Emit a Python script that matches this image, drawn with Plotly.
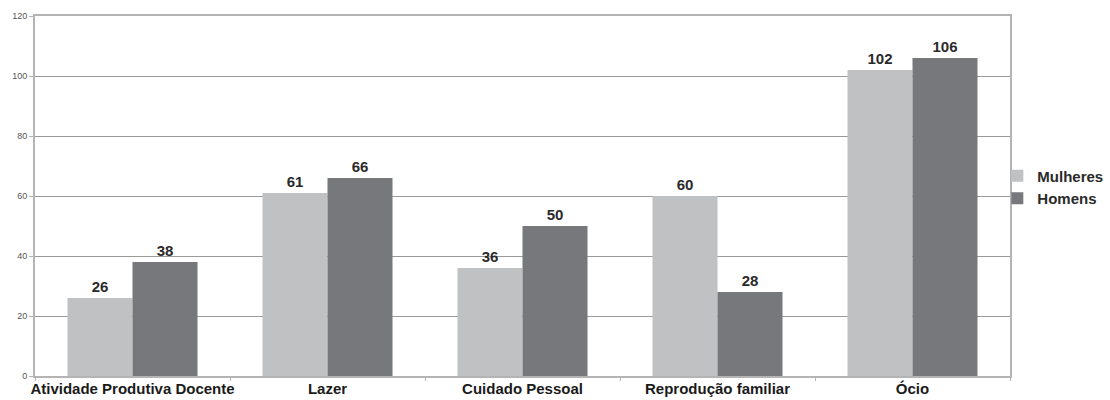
import plotly.graph_objects as go

categorias = ["Atividade Produtiva Docente", "Lazer", "Cuidado Pessoal", "Reprodução familiar", "Ócio"]
mulheres = [26, 61, 36, 60, 102]
homens = [38, 66, 50, 28, 106]
y_ticks = [0, 20, 40, 60, 80, 100, 120]

label_font = dict(family="Liberation Sans, Arial, sans-serif", size=15, color="#2a2a2a")

fig = go.Figure()
fig.add_trace(go.Bar(
    name="<b>Mulheres</b>", x=categorias, y=mulheres,
    marker=dict(color="#c0c1c3", line=dict(width=0)),
    text=[f"<b>{v}</b>" for v in mulheres], textposition="outside",
    textfont=label_font, cliponaxis=False,
))
fig.add_trace(go.Bar(
    name="<b>Homens</b>", x=categorias, y=homens,
    marker=dict(color="#77787c", line=dict(width=0)),
    text=[f"<b>{v}</b>" for v in homens], textposition="outside",
    textfont=label_font, cliponaxis=False,
))

fig.update_layout(
    width=1110, height=400,
    margin=dict(l=35, r=100, t=16, b=24, autoexpand=False),
    paper_bgcolor="white", plot_bgcolor="white",
    barmode="group", bargap=1/3, bargroupgap=0,
    font=dict(family="Liberation Sans, Arial, sans-serif"),
    showlegend=True,
    legend=dict(
        x=0.987, y=0.525, xanchor="left", yanchor="middle",
        font=dict(size=15, color="#2a2a2a"),
        itemwidth=30, tracegroupgap=0,
        bgcolor="rgba(0,0,0,0)",
    ),
)

fig.update_yaxes(
    range=[0, 120], tickvals=y_ticks, ticktext=[str(v) for v in y_ticks],
    showgrid=True, gridcolor="#9a9a9a", gridwidth=1,
    showline=True, linecolor="#b4b4b4", linewidth=2, mirror=True,
    ticks="outside", ticklen=4, tickcolor="#b4b4b4",
    tickfont=dict(size=9, color="#555555"),
    zeroline=False,
)
fig.update_xaxes(
    showline=True, linecolor="#b4b4b4", linewidth=2, mirror=True,
    ticks="outside", tickson="boundaries", ticklen=3, tickcolor="#b4b4b4",
    tickangle=0, ticklabelstandoff=-2,
    tickfont=dict(size=15, color="#1a1a1a"),
    ticktext=[f"<b>{c}</b>" for c in categorias], tickvals=categorias,
)

fig.write_html("out.html")
